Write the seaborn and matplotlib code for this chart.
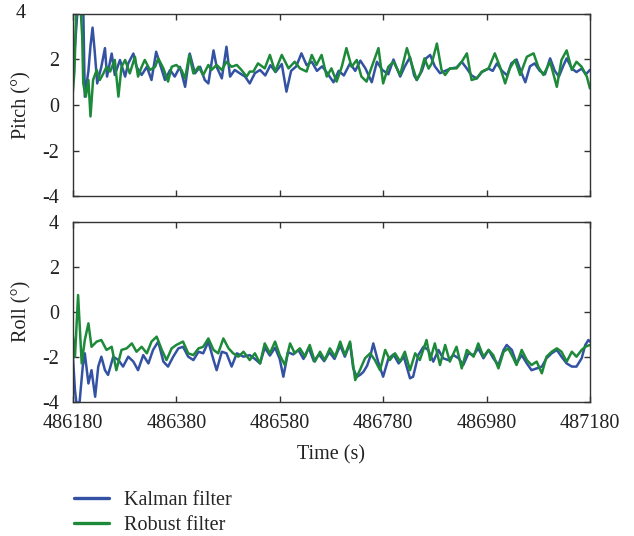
import numpy as np
import pandas as pd
import matplotlib
matplotlib.use('Agg')
import matplotlib.pyplot as plt
from matplotlib.lines import Line2D
import seaborn as sns

# start time of the record (s)
t0 = 486180

# Pitch, Kalman filter: (seconds from start, degrees)
t_pitch_kf = [0, 4, 10, 16, 20, 23, 30, 34, 38, 42, 47, 55, 62, 66, 75, 81, 91, 101, 107, 117,
              123, 133, 143, 152, 161, 168, 178, 188, 197, 207, 217, 226, 236, 246, 255, 262, 272, 278, 288, 297,
              304, 313, 323, 333, 342, 352, 362, 372, 382, 392, 404, 413, 422, 432, 442, 452, 462, 472, 482, 492,
              504, 514, 524, 536, 546, 556, 566, 578, 588, 598, 610, 620, 633, 642, 652, 660, 665, 675, 683, 691,
              700, 710, 720, 730, 742, 752, 762, 771, 781, 791, 804, 812, 820, 830, 840, 848, 858, 866, 875, 884,
              893, 903, 913, 923, 932, 940, 948, 955, 965, 974, 984, 992, 1000]
pitch_kf = [1.7, 2.6, 4.5, 4.6, 4.3, 0.37, 1.5, 2.6, 3.4, 2.4, 0.95, 1.68, 2.5, 1.25, 2.26, 1.32, 1.98, 1.25, 1.83, 2.26,
            1.68, 1.32, 1.68, 1.1, 2.34, 1.83, 1.1, 1.54, 1.25, 1.68, 0.8, 2.26, 1.39, 1.68, 1.1, 0.95, 2.4, 1.68, 1.17, 2.56,
            1.25, 1.54, 1.39, 1.25, 0.95, 1.4, 1.54, 1.3, 1.75, 1.45, 1.8, 0.59, 1.5, 1.7, 2.27, 1.75, 1.9, 1.5, 1.7, 1.4,
            1.0, 1.5, 1.3, 1.83, 1.5, 1.95, 1.6, 1.0, 1.9, 1.55, 1.35, 2.0, 1.25, 1.7, 2.1, 1.3, 1.1, 1.5, 2.05, 2.2,
            1.7, 1.4, 1.5, 1.6, 1.65, 1.9, 1.6, 1.3, 1.17, 1.45, 1.6, 1.5, 1.83, 1.5, 1.3, 1.83, 2.0, 1.5, 1.0, 1.7,
            1.83, 1.5, 1.35, 2.05, 1.5, 1.25, 1.7, 2.05, 1.6, 1.45, 1.6, 1.35, 1.54]

# Pitch, robust filter
t_pitch_rf = [0, 3, 7, 14, 18, 20, 25, 30, 34, 39, 46, 52, 59, 65, 72, 81, 88, 94, 101, 110,
              120, 126, 133, 139, 149, 159, 165, 175, 184, 191, 200, 210, 217, 225, 233, 243, 252, 262, 268, 278,
              288, 297, 307, 317, 326, 336, 342, 349, 358, 371, 381, 391, 404, 417, 429, 439, 452, 462, 471, 481,
              491, 500, 510, 520, 529, 539, 549, 558, 568, 578, 591, 600, 610, 620, 633, 646, 655, 665, 672, 680,
              688, 694, 704, 713, 720, 729, 742, 752, 762, 771, 781, 791, 804, 816, 826, 836, 845, 855, 865, 878,
              891, 900, 910, 923, 936, 945, 955, 965, 974, 984, 994, 1000]
pitch_rf = [0.6, 1.5, 4.6, 4.6, 3.0, 0.95, 0.37, 1.1, -0.5, 1.1, 1.54, 1.1, 1.39, 1.68, 1.47, 1.98, 0.37, 1.68, 1.98, 1.39,
            2.12, 1.25, 1.68, 1.98, 1.54, 1.68, 2.05, 1.61, 1.03, 1.68, 1.76, 1.54, 1.17, 2.2, 1.39, 1.68, 1.32, 1.76, 1.54, 1.76,
            1.54, 1.9, 1.68, 1.76, 1.54, 1.25, 1.47, 1.47, 1.83, 1.61, 2.2, 1.47, 2.2, 1.61, 1.9, 1.61, 1.47, 2.2, 1.76, 2.2,
            1.25, 1.61, 1.03, 1.68, 2.5, 1.68, 1.98, 1.25, 1.03, 1.68, 2.5, 0.95, 1.68, 1.9, 1.32, 2.5, 1.83, 1.1, 1.4, 2.05,
            1.6, 1.83, 2.7, 1.54, 1.32, 1.61, 1.61, 1.9, 2.27, 1.1, 1.17, 1.47, 1.61, 2.27, 1.68, 0.95, 1.61, 1.98, 1.32, 2.12,
            2.27, 1.68, 1.32, 1.9, 0.8, 1.98, 2.4, 1.54, 1.9, 1.68, 1.25, 0.73]

# Roll, Kalman filter
t_roll_kf = [0, 4, 7, 13, 19, 23, 30, 36, 43, 49, 55, 62, 68, 78, 88, 97, 107, 117, 126, 136,
             146, 155, 165, 175, 184, 194, 204, 213, 223, 233, 243, 252, 262, 272, 278, 288, 297, 307, 317, 330,
             342, 352, 362, 371, 381, 391, 400, 407, 416, 426, 436, 446, 456, 466, 476, 486, 496, 506, 517, 526,
             536, 542, 549, 556, 562, 569, 575, 581, 590, 600, 610, 620, 630, 640, 652, 658, 668, 678, 687, 697,
             707, 716, 726, 736, 746, 755, 765, 775, 784, 794, 804, 813, 823, 833, 839, 849, 858, 868, 878, 887,
             897, 907, 916, 926, 936, 945, 955, 965, 974, 984, 991, 997, 1000]
roll_kf = [-2.0, -3.5, -4.1, -4.0, -2.44, -1.85, -3.19, -2.6, -3.78, -2.44, -2.0, -2.6, -2.81, -2.0, -2.15, -2.44, -2.0, -2.22, -2.6, -1.93,
           -2.3, -1.7, -1.33, -2.22, -2.44, -2.0, -1.63, -1.56, -2.0, -2.15, -1.78, -1.85, -1.33, -2.15, -2.6, -1.78, -1.85, -2.44, -1.85, -2.0,
           -1.93, -2.1, -2.3, -1.6, -1.95, -1.6, -2.1, -2.89, -1.8, -1.9, -1.7, -2.1, -1.6, -2.2, -1.9, -2.2, -1.8, -2.1, -1.5, -2.0,
           -1.4, -2.5, -2.9, -2.8, -2.67, -2.4, -2.0, -1.41, -2.2, -2.89, -2.1, -1.9, -2.3, -2.0, -2.96, -2.89, -1.93, -1.56, -1.7, -2.22,
           -1.7, -2.07, -2.15, -1.93, -2.07, -2.37, -1.85, -1.93, -1.63, -2.07, -1.7, -2.07, -2.37, -1.7, -1.48, -1.7, -2.3, -1.93, -2.3, -2.6,
           -2.52, -2.44, -2.07, -1.85, -1.7, -2.0, -2.3, -2.44, -2.44, -2.07, -1.48, -1.26, -1.33]

# Roll, robust filter
t_roll_rf = [0, 4, 10, 17, 23, 30, 36, 46, 55, 65, 75, 84, 94, 104, 114, 123, 133, 143, 152, 162,
             172, 181, 191, 200, 213, 223, 233, 243, 252, 262, 272, 281, 291, 301, 310, 320, 330, 342, 352, 362,
             371, 381, 391, 400, 410, 420, 429, 439, 449, 458, 468, 478, 487, 497, 507, 517, 526, 536, 546, 555,
             565, 575, 584, 594, 604, 613, 623, 633, 642, 652, 662, 671, 684, 691, 700, 710, 720, 729, 742, 752,
             762, 775, 784, 794, 804, 813, 823, 833, 842, 852, 858, 868, 878, 887, 897, 907, 916, 926, 936, 945,
             955, 965, 974, 984, 991, 1000]
roll_rf = [-1.11, -2.0, 0.74, -2.3, -1.26, -0.52, -1.56, -1.33, -1.26, -1.7, -1.56, -2.6, -1.7, -1.63, -1.41, -1.78, -1.56, -1.85, -1.33, -1.11,
           -1.7, -2.15, -1.63, -1.48, -1.33, -1.85, -1.93, -1.63, -1.56, -1.19, -1.7, -1.85, -1.19, -1.63, -1.85, -2.0, -1.78, -2.15, -1.85, -2.3,
           -1.41, -1.85, -1.33, -1.93, -2.37, -1.41, -1.85, -1.63, -2.0, -1.48, -2.22, -1.78, -2.15, -1.63, -2.0, -1.33, -1.93, -1.33, -3.04, -2.6,
           -2.07, -1.85, -2.15, -2.6, -1.7, -2.15, -1.85, -2.22, -1.78, -2.6, -1.85, -2.15, -1.26, -2.15, -1.41, -2.37, -1.48, -2.22, -1.56, -2.52,
           -1.7, -2.0, -1.41, -2.0, -1.7, -1.93, -2.52, -1.78, -1.63, -2.07, -2.37, -1.7, -2.15, -2.37, -2.22, -2.74, -2.0, -1.78, -1.63, -1.78,
           -2.22, -1.78, -2.0, -1.7, -1.56, -1.48]

filters = ['Kalman filter', 'Robust filter']
colors = {'Kalman filter': '#3452a3', 'Robust filter': '#1d8a3a'}


def make_frame(t_kf, v_kf, t_rf, v_rf):
    a = pd.DataFrame({'time': np.array(t_kf) + t0, 'value': v_kf, 'filter': filters[0]})
    b = pd.DataFrame({'time': np.array(t_rf) + t0, 'value': v_rf, 'filter': filters[1]})
    return pd.concat([a, b], ignore_index=True)


df_pitch = make_frame(t_pitch_kf, pitch_kf, t_pitch_rf, pitch_rf)
df_roll = make_frame(t_roll_kf, roll_kf, t_roll_rf, roll_rf)

sns.set_style('ticks')
plt.rcParams['font.family'] = ['Liberation Serif', 'DejaVu Serif']
plt.rcParams['font.size'] = 14

fig = plt.figure(figsize=(6.34, 5.36), dpi=100)
ax1 = fig.add_axes([0.115, 0.634, 0.8155, 0.340])
ax2 = fig.add_axes([0.115, 0.2506, 0.8155, 0.3358])

xticks = [486180, 486380, 486580, 486780, 486980, 487180]
yticks = [-4, -2, 0, 2, 4]

for ax, df, lab in [(ax1, df_pitch, 'Pitch (°)'), (ax2, df_roll, 'Roll (°)')]:
    sns.lineplot(data=df, x='time', y='value', hue='filter', palette=colors,
                 estimator=None, sort=False, legend=False, linewidth=1.8, ax=ax)
    ax.set_xlim(486180, 487180)
    ax.set_ylim(-4, 4)
    ax.set_xticks(xticks)
    ax.set_yticks(yticks)
    ax.tick_params(direction='in', top=True, right=True, length=4, width=1,
                   labelsize=14.5, colors='#333333', labelcolor='#222222')
    ax.tick_params(axis='y', pad=10)
    ax.tick_params(axis='x', pad=9)
    for s in ax.spines.values():
        s.set_color('#333333')
        s.set_linewidth(1)
    ax.set_ylabel(lab, fontsize=14.5, color='#222222', labelpad=8)
    ax.set_xlabel('')

ax1.set_xticklabels([])
ax1.set_yticklabels(['-4', '-2', '0', '2', ''])
# the top "4" of the pitch panel sits further left in the original
fig.text(21 / 634, 1 - 14 / 536, '4', ha='center', va='center',
         fontsize=14.5, color='#222222')
ax2.set_yticklabels(['-4', '-2', '0', '2', '4'])
ax2.set_xticklabels([str(x) for x in xticks])
ax2.set_xlabel('Time (s)', fontsize=14.5, color='#222222', labelpad=9)

handles = [Line2D([0], [0], color=colors[f], lw=2.4) for f in filters]
fig.legend(handles, filters, loc='upper left', bbox_to_anchor=(0.104, 0.099),
           bbox_transform=fig.transFigure, frameon=False, fontsize=14.5,
           handlelength=1.75, handletextpad=0.75, labelspacing=0.3,
           borderaxespad=0.0)

fig.savefig('out.png', dpi=100)
